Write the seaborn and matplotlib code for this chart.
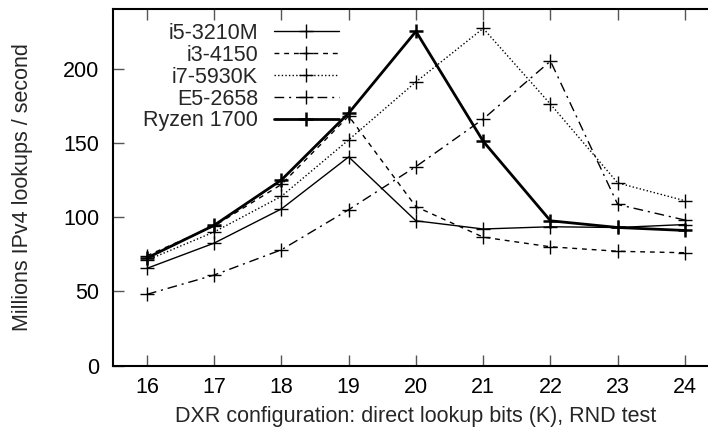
import matplotlib
matplotlib.use("Agg")
import matplotlib.pyplot as plt
import seaborn as sns
import pandas as pd

bits = [16, 17, 18, 19, 20, 21, 22, 23, 24]
i5_3210m = [65.5, 82.5, 105.5, 140.5, 97.5, 92, 93.5, 93, 95]
i3_4150 = [74, 94, 122, 168, 107, 86.5, 80, 77, 76]
i7_5930k = [71, 90, 114, 152, 191, 227, 176, 123, 111]
e5_2658 = [48, 61, 78, 105, 134, 166, 205, 108.5, 98]
ryzen_1700 = [72.5, 94.5, 125, 170, 225, 151, 97.5, 93, 91]

series_names = ["i5-3210M", "i3-4150", "i7-5930K", "E5-2658", "Ryzen 1700"]
series_values = [i5_3210m, i3_4150, i7_5930k, e5_2658, ryzen_1700]

sns.set_theme(style="ticks")
plt.rcParams["font.family"] = ["Liberation Sans", "DejaVu Sans"]

fig = plt.figure(figsize=(7.08, 4.32), dpi=100)
ax = fig.add_axes([0.160, 0.1535, 0.855, 0.8255])

styles = {
    "i5-3210M": dict(linestyle="-", linewidth=1.0, mew=1.0),
    "i3-4150": dict(linestyle=(0, (3.5, 3.5)), linewidth=1.0, mew=1.0),
    "i7-5930K": dict(linestyle=(0, (1, 1.6)), linewidth=1.0, mew=1.0),
    "E5-2658": dict(linestyle=(0, (7, 3.5, 1.5, 3.5)), linewidth=1.0, mew=1.0),
    "Ryzen 1700": dict(linestyle="-", linewidth=2.0, mew=1.8),
}

for name, vals in zip(series_names, series_values):
    df = pd.DataFrame({"bits": bits, "val": vals})
    st = styles[name]
    sns.lineplot(data=df, x="bits", y="val", ax=ax, color="black",
                 marker="+", markersize=10, markeredgewidth=st["mew"],
                 markeredgecolor="black", markerfacecolor="black",
                 linestyle=st["linestyle"], linewidth=st["linewidth"],
                 label=name)

ax.set_xlim(15.5, 24.5)
ax.set_ylim(0, 240)
ax.set_xticks(bits)
ax.set_yticks([0, 50, 100, 150, 200])
ax.tick_params(direction="in", length=8, width=1, labelsize=15.5, color="#555555",
               labelcolor="black", top=True, right=True)
ax.tick_params(axis="x", pad=8)
ax.tick_params(axis="y", pad=10)
for s in ax.spines.values():
    s.set_linewidth(1.5)
    s.set_color("black")

ax.set_xlabel("DXR configuration: direct lookup bits (K), RND test", fontsize=15.5, labelpad=6)
ax.set_ylabel("Millions IPv4 lookups / second", fontsize=15.5, labelpad=22)

leg = ax.legend(loc="upper left", bbox_to_anchor=(0.035, 0.985), frameon=False,
                markerfirst=False, fontsize=15.5, labelspacing=0.04,
                handlelength=3.0, handletextpad=0.75, borderaxespad=0)

fig.savefig("out.png", dpi=100)
